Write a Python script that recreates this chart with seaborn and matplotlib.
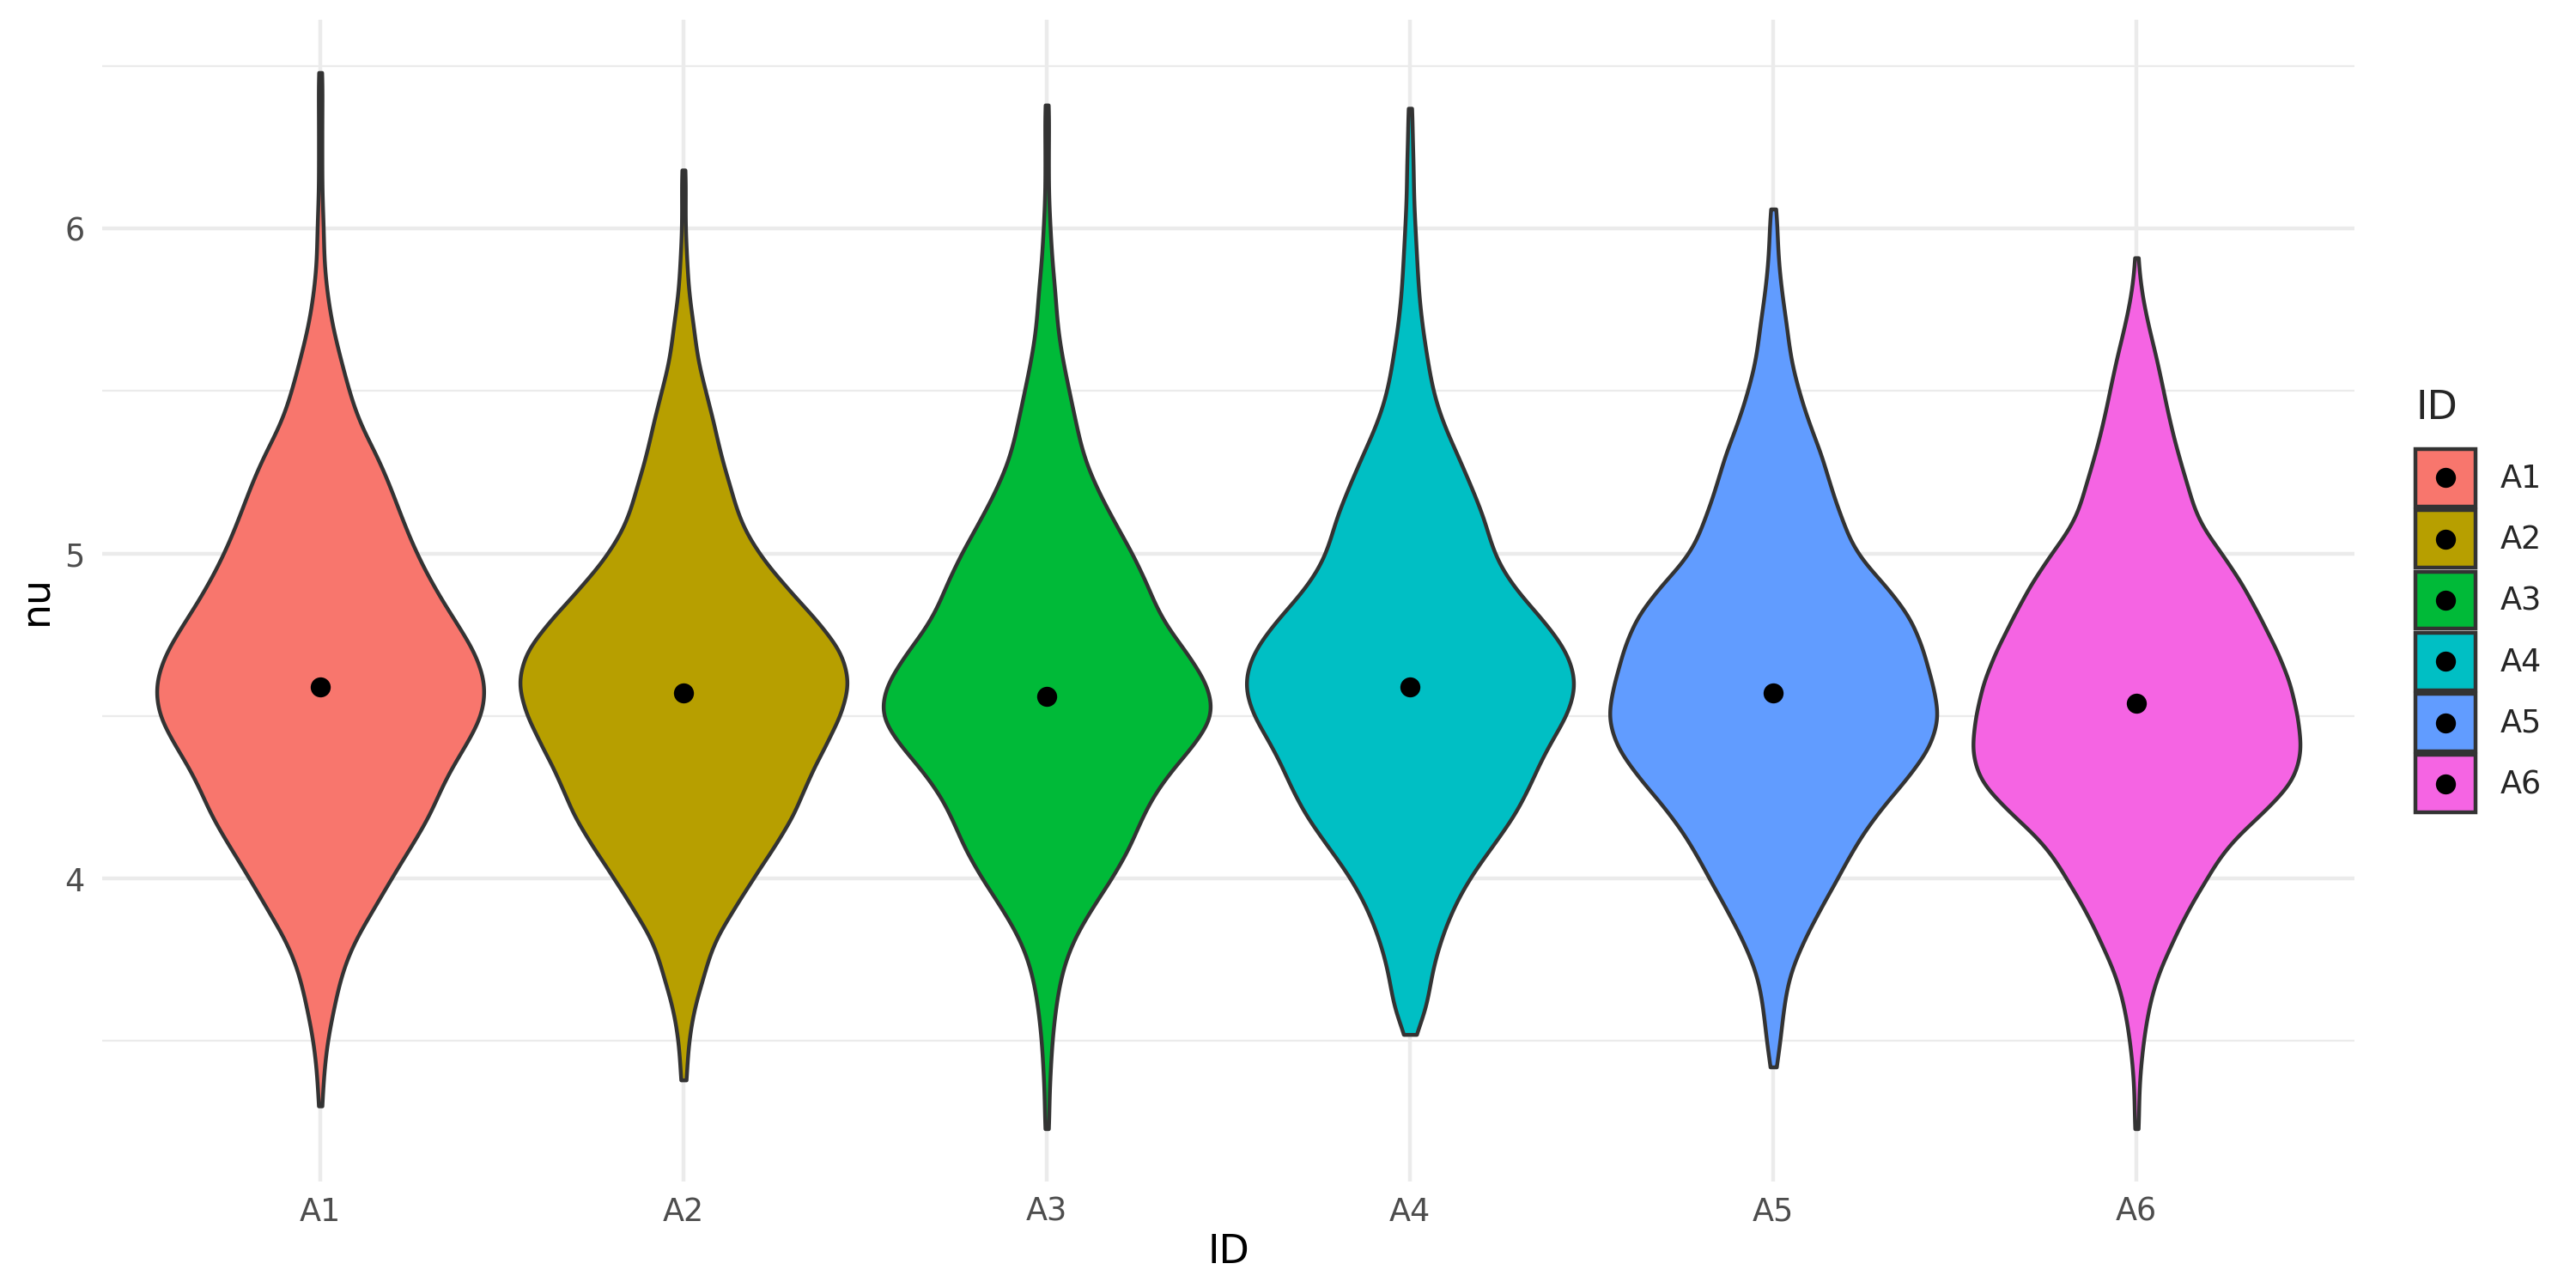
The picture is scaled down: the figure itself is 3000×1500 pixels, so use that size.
import numpy as np
import pandas as pd
import matplotlib
matplotlib.use("Agg")
import matplotlib.pyplot as plt
import seaborn as sns
from matplotlib.patches import Patch, Rectangle
from matplotlib.lines import Line2D
from matplotlib.legend_handler import HandlerBase

# Style: mimic ggplot2 theme_minimal
sns.set_style("white")
plt.rcParams["font.family"] = ["DejaVu Sans"]

# Data
ids = ["A1", "A2", "A3", "A4", "A5", "A6"]
colors = ["#F8766D", "#B79F00", "#00BA38", "#00BFC4", "#619CFF", "#F564E3"]

# value levels (nu) and how many draws sit at each level, per ID
nu_grid = [3.3, 3.4, 3.5, 3.6, 3.7, 3.8, 3.9, 4.0, 4.1, 4.2, 4.3, 4.4, 4.5, 4.6, 4.7, 4.8,
           4.9, 5.0, 5.1, 5.2, 5.3, 5.4, 5.5, 5.6, 5.7, 5.8, 5.9, 6.0, 6.1, 6.2, 6.3, 6.4]
counts_a1 = [0, 2, 4, 8, 12, 19, 31, 42, 54, 66, 73, 85, 97, 99, 92, 79,
             67, 57, 49, 42, 34, 23, 17, 12, 7, 4, 2, 2, 1, 1, 1, 1]
counts_a2 = [0, 1, 3, 6, 12, 17, 29, 41, 54, 66, 73, 83, 93, 99, 94, 78,
             60, 44, 33, 28, 22, 18, 13, 8, 6, 3, 2, 1, 1, 0, 0, 0]
counts_a3 = [1, 2, 3, 5, 8, 14, 25, 38, 49, 56, 67, 84, 99, 94, 81, 66,
             59, 50, 39, 29, 21, 17, 13, 9, 6, 5, 3, 2, 1, 1, 1, 0]
counts_a4 = [0, 0, 0, 10, 12, 17, 24, 34, 48, 62, 71, 79, 92, 98, 92, 77,
             59, 48, 44, 36, 28, 19, 13, 10, 7, 5, 4, 3, 2, 2, 1, 0]
counts_a5 = [0, 0, 4, 6, 9, 17, 27, 38, 48, 61, 78, 93, 99, 94, 89, 82,
             67, 48, 41, 34, 29, 21, 15, 10, 8, 5, 3, 2, 0, 0, 0, 0]
counts_a6 = [1, 2, 4, 7, 12, 21, 30, 42, 53, 75, 95, 99, 96, 92, 84, 74,
             64, 51, 36, 31, 25, 20, 16, 12, 7, 3, 0, 0, 0, 0, 0, 0]
nu_min = [3.30, 3.38, 3.23, 3.52, 3.42, 3.23]
nu_max = [6.48, 6.18, 6.38, 6.37, 6.06, 5.91]
nu_mean = [4.59, 4.57, 4.56, 4.59, 4.57, 4.54]

# Build long table of draws
all_counts = [counts_a1, counts_a2, counts_a3, counts_a4, counts_a5, counts_a6]
frames = []
for name, cnt, lo, hi in zip(ids, all_counts, nu_min, nu_max):
    vals = np.concatenate([np.repeat(nu_grid, cnt), [lo, hi]])
    frames.append(pd.DataFrame({"ID": name, "nu": vals}))
df = pd.concat(frames, ignore_index=True)

fig, ax = plt.subplots(figsize=(10, 5), dpi=300)
fig.subplots_adjust(left=0.0397, right=0.914, bottom=0.0827, top=0.9847)

sns.violinplot(data=df, x="ID", y="nu", hue="ID", order=ids, hue_order=ids,
               palette=colors, saturation=1, width=0.9, cut=0, inner=None,
               density_norm="area", bw_method=0.15, gridsize=400,
               linewidth=1.07, linecolor="#333333", legend=False, ax=ax)

# mean points
sns.pointplot(x=ids, y=nu_mean, order=ids, color="black", linestyle="none",
              markers="o", markersize=5.6, markeredgewidth=0, errorbar=None,
              zorder=5, ax=ax)

# axes limits like ggplot expansion
lo, hi = df["nu"].min(), df["nu"].max()
pad = (hi - lo) * 0.05
ax.set_ylim(lo - pad, hi + pad)
ax.set_xlim(-0.6, len(ids) - 0.4)

ax.set_yticks([4, 5, 6])
ax.set_yticks([3.5, 4.5, 5.5, 6.5], minor=True)
ax.set_axisbelow(True)
ax.grid(which="major", axis="both", color="#EBEBEB", linewidth=1.07)
ax.grid(which="minor", axis="y", color="#EBEBEB", linewidth=0.53)
for s in ax.spines.values():
    s.set_visible(False)
ax.tick_params(which="both", length=0, pad=5, labelsize=8.8, labelcolor="#4D4D4D")
ax.tick_params(axis="x", pad=4)

ax.set_xlabel("ID", fontsize=11, color="black", labelpad=1.5)
ax.set_ylabel("nu", fontsize=11, color="black", labelpad=2.5)


# legend key: filled square with the black mean dot in the middle
class KeyWithDot(HandlerBase):
    def create_artists(self, legend, orig_handle, xdescent, ydescent,
                       width, height, fontsize, trans):
        rect = Rectangle((-xdescent, -ydescent), width, height,
                         facecolor=orig_handle.get_facecolor(),
                         edgecolor="#333333", linewidth=1.07, transform=trans)
        dot = Line2D([-xdescent + width / 2], [-ydescent + height / 2],
                     marker="o", color="black", linestyle="none",
                     markersize=5.6, markeredgewidth=0, transform=trans)
        return [rect, dot]


handles = [Patch(facecolor=c) for c in colors]
leg = fig.legend(handles, ids, handler_map={Patch: KeyWithDot()},
                 title="ID", loc="upper left", bbox_to_anchor=(2813 / 3000, 1 - 453 / 1500),
                 frameon=False, fontsize=8.8, title_fontsize=11, handlelength=1.9,
                 handleheight=2.43, handletextpad=0.78, labelspacing=0.12,
                 borderpad=0, borderaxespad=0, alignment="left")
leg._legend_box.sep = 6

fig.savefig("out.png", dpi=300)
